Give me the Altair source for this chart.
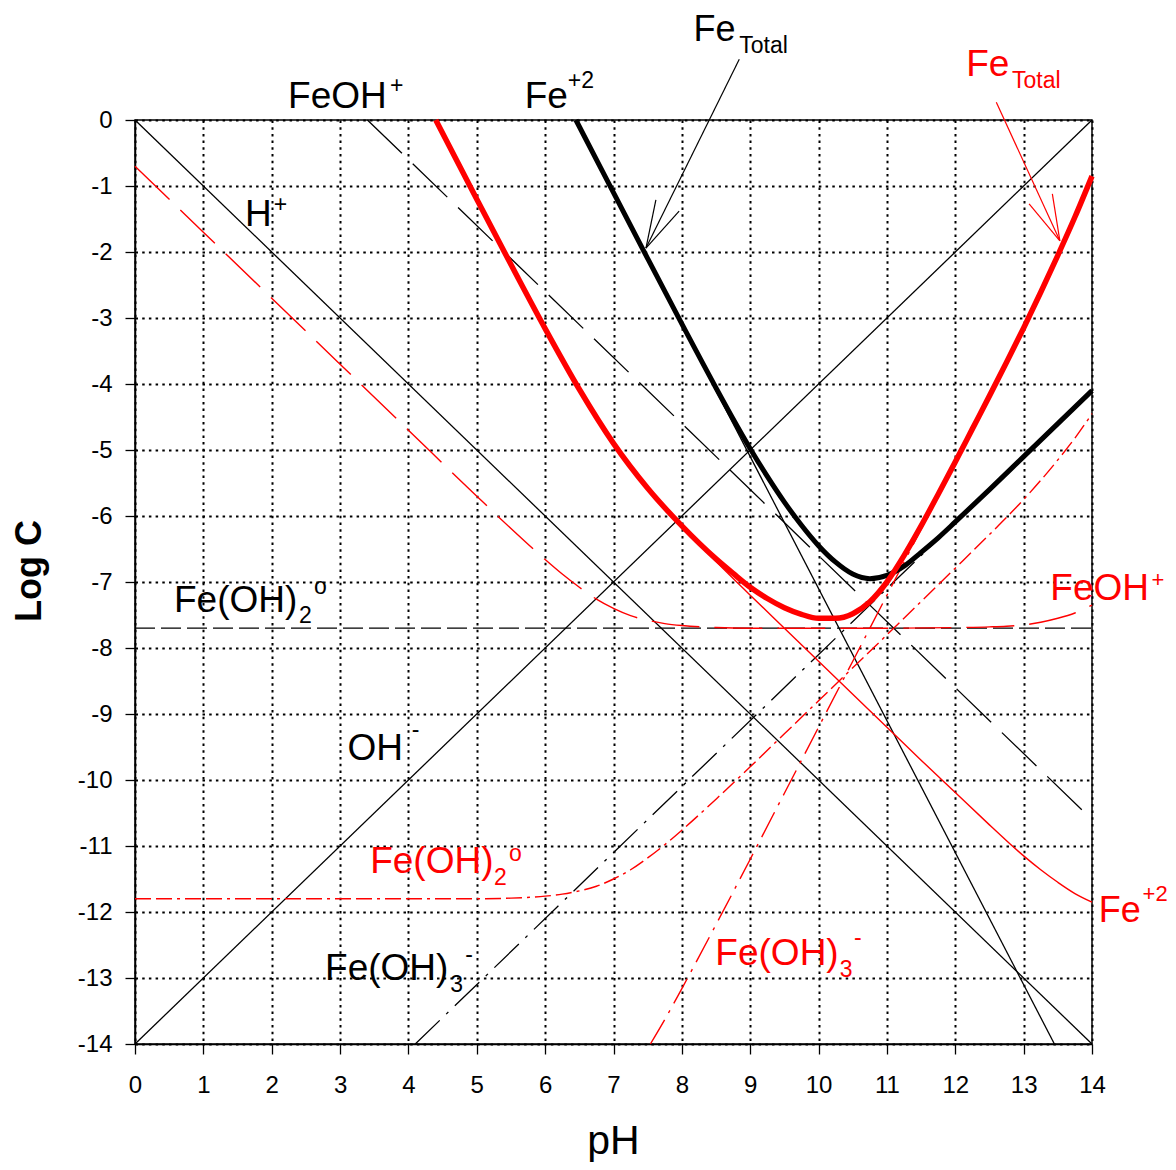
import altair as alt
import pandas as pd

RED = "#ff0000"
BLACK = "#000000"

# ---------------- values ----------------
# reference lines H+ and OH-
h_ph = [0, 14]
h_log = [0, -14]
oh_ph = [0, 14]
oh_log = [-14, 0]

# black system
b_fe2_ph = [6.45, 13.45]
b_fe2_log = [0.0, -14.0]
b_feoh_ph = [3.4, 14.0]
b_feoh_log = [0.0, -10.6]
b_feoh2_ph = [0.0, 14.0]
b_feoh2_log = [-7.7, -7.7]
b_feoh3_ph = [4.1, 14.0]
b_feoh3_log = [-14.0, -4.1]
b_tot_ph = [6.45, 7.0, 7.5, 8.0, 8.5, 8.75, 9.0, 9.25, 9.5, 9.75, 10.0, 10.25,
            10.5, 10.75, 11.0, 11.25, 11.5, 11.75, 12.0, 12.5, 13.0, 13.5, 14.0]
b_tot_log = [0.0, -1.10, -2.10, -3.09, -4.06, -4.53, -4.98, -5.40, -5.79, -6.14,
             -6.45, -6.70, -6.88, -6.95, -6.90, -6.76, -6.55, -6.33, -6.09,
             -5.60, -5.10, -4.60, -4.10]

# red system
r_fe2_ph = [4.4, 5.0, 5.5, 6.0, 6.5, 6.75, 7.0, 7.25, 7.5, 7.75, 8.0, 8.5, 9.0,
            9.5, 10.0, 10.5, 11.0, 11.5, 12.0, 12.5, 12.75, 13.0, 13.25, 13.5,
            13.75, 14.0]
r_fe2_log = [0.0, -1.20, -2.19, -3.16, -4.08, -4.51, -4.90, -5.26, -5.58, -5.88,
             -6.16, -6.69, -7.20, -7.70, -8.20, -8.70, -9.20, -9.70, -10.19,
             -10.68, -10.92, -11.15, -11.36, -11.55, -11.72, -11.85]
r_feoh_ph = [0.0, 1.0, 2.0, 3.0, 4.0, 5.0, 5.5, 6.0, 6.25, 6.5, 6.75, 7.0, 7.25,
             7.5, 7.75, 8.0, 8.5, 9.0, 10.0, 11.0, 12.0, 12.5, 12.75, 13.0,
             13.25, 13.5, 13.75, 14.0]
r_feoh_log = [-0.70, -1.70, -2.70, -3.70, -4.70, -5.70, -6.19, -6.66, -6.88,
              -7.08, -7.26, -7.40, -7.51, -7.58, -7.63, -7.66, -7.69, -7.70,
              -7.70, -7.70, -7.69, -7.68, -7.67, -7.65, -7.61, -7.55, -7.47,
              -7.35]
r_feoh2_ph = [0.0, 4.0, 5.0, 5.5, 6.0, 6.25, 6.5, 6.75, 7.0, 7.25, 7.5, 7.75,
              8.0, 8.5, 9.0, 9.5, 10.0, 11.0, 12.0, 12.5, 12.75, 13.0, 13.25,
              13.5, 13.75, 14.0]
r_feoh2_log = [-11.80, -11.80, -11.80, -11.79, -11.76, -11.73, -11.68, -11.61,
               -11.50, -11.36, -11.18, -10.98, -10.76, -10.29, -9.80, -9.30,
               -8.80, -7.80, -6.79, -6.28, -6.02, -5.75, -5.46, -5.15, -4.82,
               -4.45]
r_feoh3_ph = [7.54, 7.75, 8.0, 8.5, 9.0, 9.5, 10.0, 10.5, 11.0, 11.5, 12.0,
              12.5, 12.75, 13.0, 13.25, 13.5, 13.75, 14.0]
r_feoh3_log = [-14.0, -13.63, -13.16, -12.19, -11.20, -10.20, -9.20, -8.20,
               -7.20, -6.20, -5.19, -4.18, -3.67, -3.15, -2.61, -2.05, -1.47,
               -0.85]
r_tot_ph = [4.4, 5.0, 5.5, 6.0, 6.5, 7.0, 7.5, 8.0, 8.5, 8.75, 9.0, 9.25, 9.5,
            9.75, 10.0, 10.25, 10.5, 10.75, 11.0, 11.25, 11.5, 11.75, 12.0,
            12.25, 12.5, 12.75, 13.0, 13.25, 13.5, 13.75, 14.0]
r_tot_log = [0.0, -1.20, -2.19, -3.16, -4.08, -4.90, -5.58, -6.15, -6.65, -6.87,
             -7.08, -7.25, -7.39, -7.49, -7.55, -7.55, -7.48, -7.30, -7.00,
             -6.60, -6.15, -5.67, -5.18, -4.68, -4.18, -3.67, -3.15, -2.61,
             -2.05, -1.47, -0.85]

# tick labels
x_ticks = list(range(0, 15))
y_ticks = list(range(-14, 1))

# labels (main text / subscripts): text, pH, logC, colour, size
lab_text = ["FeOH", "Fe", "Fe", "Total", "H", "Fe(OH)", "2", "OH", "Fe(OH)", "3",
            "Fe(OH)", "2", "Fe(OH)", "3", "FeOH", "Fe", "Fe", "Total"]
lab_ph = [2.24, 5.70, 8.17, 8.84, 1.61, 0.57, 2.40, 3.11, 2.78, 4.61,
          3.44, 5.25, 8.49, 10.31, 13.39, 14.10, 12.16, 12.83]
lab_log = [0.18, 0.18, 1.19, 1.01, -1.61, -7.45, -7.62, -9.70, -13.03, -13.21,
           -11.41, -11.59, -12.80, -12.98, -7.27, -12.15, 0.67, 0.48]
lab_col = [BLACK] * 10 + [RED] * 8
lab_size = [37, 37, 36, 23, 37, 37, 23, 37, 37, 23, 37, 23, 37, 23, 37, 36, 37, 23]

# superscripts
sup_text = ["+", "+2", "+", "o", "-", "-", "o", "-", "+", "+2"]
sup_ph = [3.73, 6.33, 2.03, 2.62, 4.05, 4.83, 5.47, 10.52, 14.87, 14.74]
sup_log = [0.52, 0.59, -1.29, -7.08, -9.24, -12.65, -11.12, -12.39, -6.97, -11.72]
sup_col = [BLACK] * 6 + [RED] * 4
sup_size = [23, 23, 23, 23, 23, 23, 23, 23, 22, 22]

# arrows (start -> tip, plus two head strokes)
arr_x1 = [8.84, 7.475, 7.475, 12.60, 13.53, 13.53]
arr_y1 = [0.92, -1.94, -1.94, 0.27, -1.83, -1.83]
arr_x2 = [7.475, 7.62, 7.96, 13.53, 13.08, 13.42]
arr_y2 = [-1.94, -1.21, -1.38, -1.83, -1.27, -1.12]
arr_col = [BLACK] * 3 + [RED] * 3

# ---------------- chart ----------------
xscale = alt.Scale(domain=[0, 14], nice=False, zero=False)
yscale = alt.Scale(domain=[-14, 0], nice=False, zero=False)
common_axis = dict(title=None, labelFontSize=24, labelColor=BLACK, tickSize=10,
                   tickColor=BLACK, tickWidth=1.3, grid=True, gridColor=BLACK,
                   gridDash=[2.5, 4.2], gridWidth=2, gridOpacity=1,
                   domainColor=BLACK, domainWidth=1.5,
                   labelExpr="'' + datum.value", labelFlush=False,
                   labelOverlap=False)
xaxis = alt.Axis(values=x_ticks, labelPadding=19, **common_axis)
yaxis = alt.Axis(values=y_ticks, labelPadding=13, **common_axis)


def X(f):
    return alt.X(f, type="quantitative", scale=xscale, axis=xaxis)


def Y(f):
    return alt.Y(f, type="quantitative", scale=yscale, axis=yaxis)


def line(ph, lg, color, width, dash=None, interp="monotone"):
    df = pd.DataFrame({"pH": ph, "logC": lg})
    kw = dict(color=color, strokeWidth=width, interpolate=interp,
              strokeCap="butt", strokeJoin="round")
    if dash is not None:
        kw["strokeDash"] = dash
    return alt.Chart(df).mark_line(**kw).encode(x=X("pH"), y=Y("logC"))


layers = [
    line(h_ph, h_log, BLACK, 1.3, interp="linear"),
    line(oh_ph, oh_log, BLACK, 1.3, interp="linear"),
    line(b_fe2_ph, b_fe2_log, BLACK, 1.3, interp="linear"),
    line(b_feoh_ph, b_feoh_log, BLACK, 1.3, dash=[48, 15], interp="linear"),
    line(b_feoh2_ph, b_feoh2_log, BLACK, 1.3, dash=[20, 6], interp="linear"),
    line(b_feoh3_ph, b_feoh3_log, BLACK, 1.3, dash=[34, 9, 3, 9], interp="linear"),
    line(r_fe2_ph, r_fe2_log, RED, 1.4),
    line(r_feoh_ph, r_feoh_log, RED, 1.4, dash=[48, 15]),
    line(r_feoh2_ph, r_feoh2_log, RED, 1.4, dash=[16, 5, 16, 5, 3, 5]),
    line(r_feoh3_ph, r_feoh3_log, RED, 1.4, dash=[28, 8, 3, 8]),
    line(b_tot_ph, b_tot_log, BLACK, 5),
    line(r_tot_ph, r_tot_log, RED, 5.5),
]

arrows = pd.DataFrame({"x1": arr_x1, "y1": arr_y1, "x2": arr_x2, "y2": arr_y2,
                       "c": arr_col})
layers.append(
    alt.Chart(arrows).mark_rule(strokeWidth=1.2).encode(
        x=X("x1"), y=Y("y1"), x2="x2", y2="y2",
        color=alt.Color("c:N", scale=None))
)

labels = pd.DataFrame({"pH": lab_ph, "logC": lab_log, "t": lab_text,
                       "c": lab_col, "s": lab_size})
layers.append(
    alt.Chart(labels).mark_text(align="left", baseline="alphabetic").encode(
        x=X("pH"), y=Y("logC"), text="t:N",
        color=alt.Color("c:N", scale=None), size=alt.Size("s:Q", scale=None))
)

sups = pd.DataFrame({"pH": sup_ph, "logC": sup_log, "t": sup_text,
                     "c": sup_col, "s": sup_size})
layers.append(
    alt.Chart(sups).mark_text(align="left", baseline="middle").encode(
        x=X("pH"), y=Y("logC"), text="t:N",
        color=alt.Color("c:N", scale=None), size=alt.Size("s:Q", scale=None))
)

titles = pd.DataFrame({"t": ["x"]})
layers.append(
    alt.Chart(titles).mark_text(angle=270, fontSize=36, fontWeight="bold",
                                align="center", baseline="middle",
                                color=BLACK).encode(
        x=alt.value(-105), y=alt.value(451), text=alt.value("Log C"))
)
layers.append(
    alt.Chart(titles).mark_text(fontSize=41, align="center",
                                baseline="alphabetic", color=BLACK).encode(
        x=alt.value(478.5), y=alt.value(1034), text=alt.value("pH"))
)

chart = alt.layer(*layers).properties(
    width=957, height=924,
    autosize=alt.AutoSizeParams(type="none"),
    padding={"left": 127, "top": 112, "right": 76, "bottom": 118},
).configure(font="Liberation Sans").configure_view(stroke=BLACK, strokeWidth=1.5)

chart.save("out.html", embed_options={"renderer": "svg", "actions": False})
